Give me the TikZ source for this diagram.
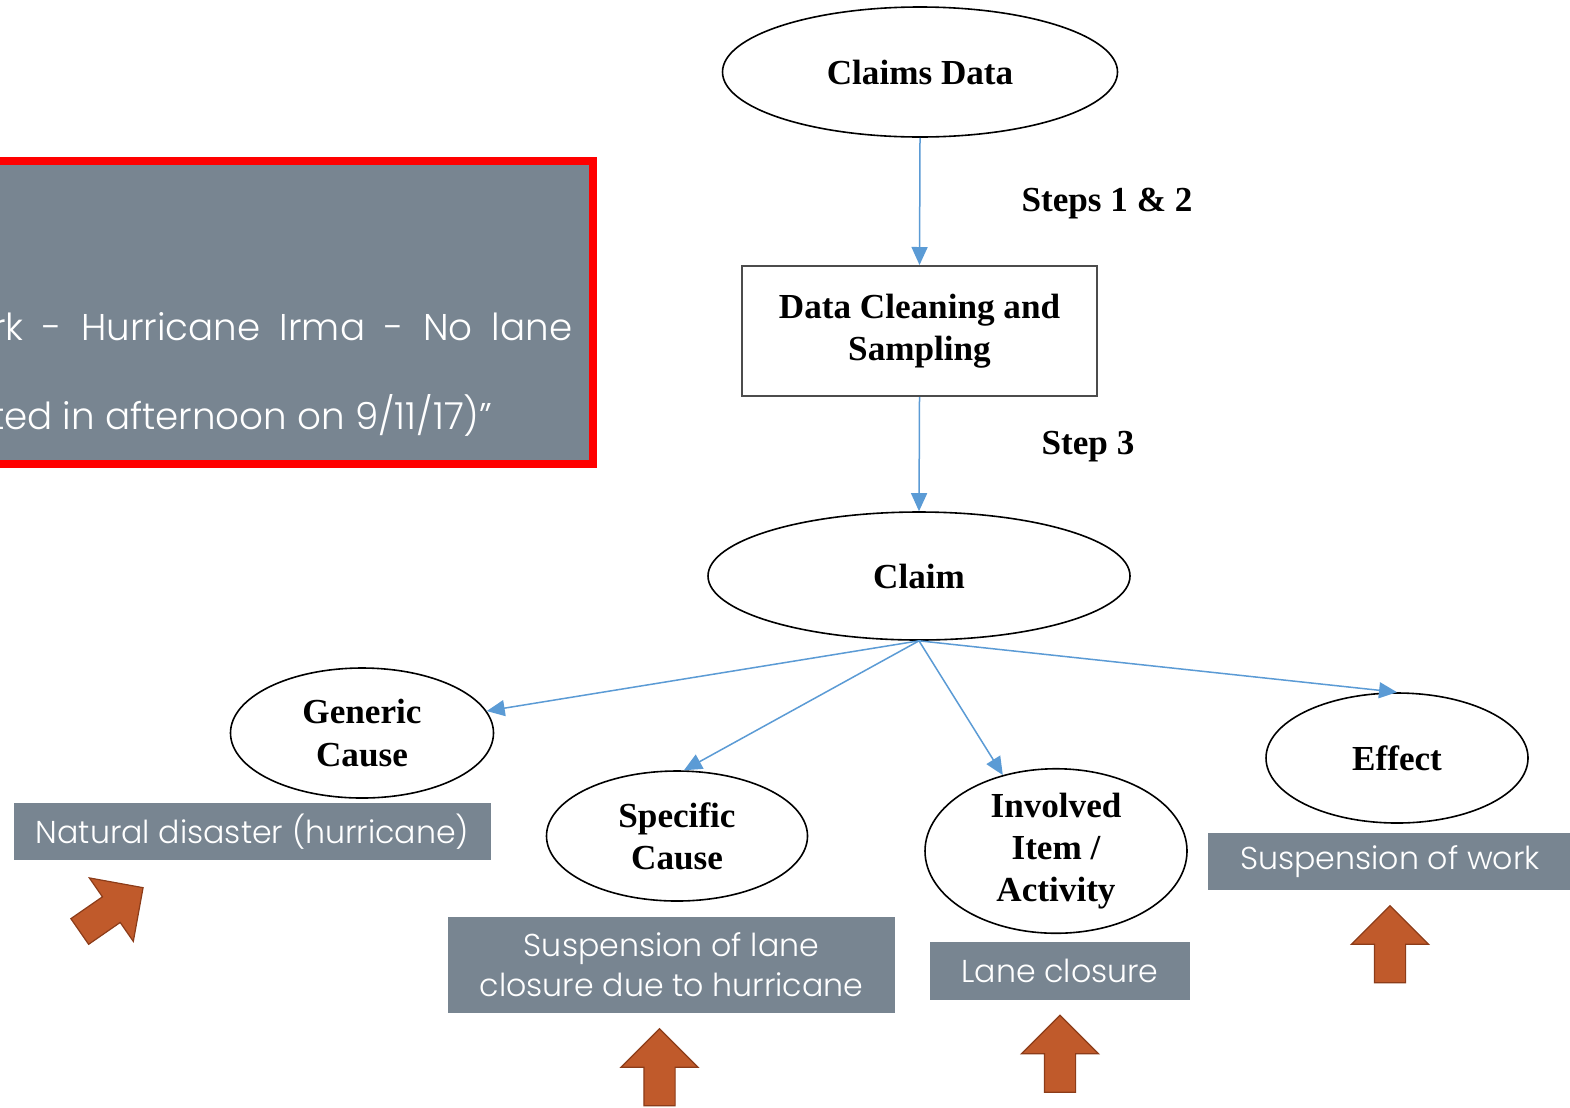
\documentclass[tikz,border=0pt]{standalone}
\usepackage{fontspec}
\setmainfont{Liberation Serif}
\newfontfamily\greyfont{Poppins}[UprightFont=* Light]
\usetikzlibrary{arrows.meta,shapes.geometric,shapes.arrows}
\definecolor{slate}{RGB}{120,133,145}
\definecolor{flow}{RGB}{91,155,213}
\definecolor{rust}{RGB}{192,90,43}
\definecolor{rustedge}{RGB}{140,60,25}
\tikzset{
  oval/.style={ellipse,draw=black,line width=0.16mm,fill=white,font=\bfseries,align=center,inner sep=0pt},
  stepbox/.style={rectangle,draw=black!70,line width=0.2mm,font=\bfseries,align=center},
  flowarrow/.style={draw=flow,line width=0.15mm,-{Triangle[length=1.8mm,width=1.6mm]}},
  steplabel/.style={font=\bfseries},
  tag/.style={fill=slate,text=white,font=\greyfont\fontsize{9}{11.4}\selectfont,inner sep=0pt,align=center},
  quote/.style={text=white,font=\greyfont\fontsize{10.6}{13}\selectfont,inner sep=0pt},
  bigarrow/.style={single arrow,draw=rustedge,fill=rust,line width=0.12mm,minimum height=7.7mm,
    single arrow head extend=2.3mm,inner xsep=0pt,inner ysep=1.5mm,rotate=#1},
  bigarrow/.default=90
}
\begin{document}
\begin{tikzpicture}[x=0.1mm,y=-0.1mm]
\useasboundingbox (0,0) rectangle (1570,1107);
\clip (0,0) rectangle (1570,1107);
\fill[white] (0,0) rectangle (1570,1107);

\draw[fill=slate,draw=red,line width=0.8mm] (-20,161) rectangle (593,464);
\node[quote,anchor=base east] (quoteA) at (573,340) {\makebox[58mm][s]{rk - Hurricane Irma - No lane}};
\node[quote,anchor=base east] (quoteB) at (493,429) {ted in afternoon on 9/11/17)”};

\node[oval,minimum width=39.5mm,minimum height=13mm] (data) at (920,72) {Claims Data};
\node[stepbox,minimum width=35.5mm,minimum height=13mm] (clean) at (919.5,331) {Data Cleaning and\\Sampling};
\node[oval,minimum width=42.2mm,minimum height=12.8mm] (claim) at (919,576) {Claim};
\node[oval,minimum width=26.3mm,minimum height=13mm] (gen) at (362,733) {Generic\\Cause};
\node[oval,minimum width=26.1mm,minimum height=13mm] (spec) at (677,836) {Specific\\Cause};
\node[oval,minimum width=26.2mm,minimum height=16mm] (item) at (1056,851) {Involved\\Item /\\Activity};
\node[oval,minimum width=26.2mm,minimum height=13mm] (eff) at (1397,758) {Effect};

\node[steplabel] (s12) at (1107,204) {Steps 1 \& 2};
\node[steplabel] (s3) at (1088,447) {Step 3};

\draw[flowarrow] (data.south) -- (clean.north);
\draw[flowarrow] (clean.south) -- (claim.north);
\draw[flowarrow] (claim.south) -- (gen.10);
\draw[flowarrow] (claim.south) -- (spec.84);
\draw[flowarrow] (claim.south) -- (item.125);
\draw[flowarrow] (claim.south) -- (eff.north);

\node[tag,minimum width=47.7mm,minimum height=5.7mm] (tagGen) at (252.5,831.5) {Natural disaster (hurricane)};
\node[tag,minimum width=44.7mm,minimum height=9.6mm] (tagSpec) at (671.5,965) {Suspension of lane\\closure due to hurricane};
\node[tag,minimum width=26mm,minimum height=5.8mm] (tagItem) at (1060,971) {Lane closure};
\node[tag,minimum width=36.4mm,minimum height=5.7mm] (tagEff) at (1390,861.5) {Suspension of work};

\node[bigarrow=34.7] (upGen) at (105,914) {};
\node[bigarrow] (upSpec) at (659.5,1075) {};
\node[bigarrow] (upItem) at (1060,1061.5) {};
\node[bigarrow] (upEff) at (1390,952) {};
\end{tikzpicture}
\end{document}
